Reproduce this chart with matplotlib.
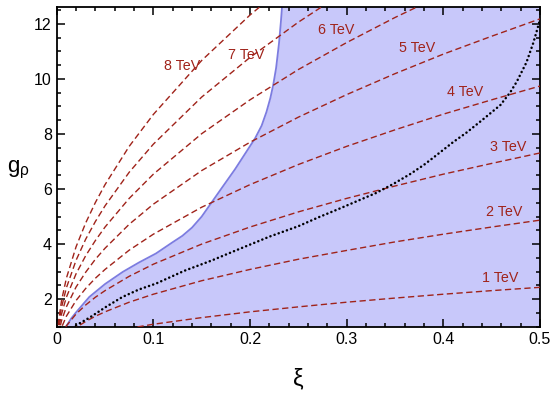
import numpy as np
import matplotlib
matplotlib.use("Agg")
import matplotlib.pyplot as plt
from matplotlib.ticker import MultipleLocator

plt.rcParams['font.family'] = ['Liberation Sans', 'DejaVu Sans']
plt.rcParams['mathtext.fontset'] = 'custom'
plt.rcParams['mathtext.rm'] = 'Liberation Sans'

# xi grid for the constant-mass lines
xi = [0, 0.002, 0.005, 0.01, 0.02, 0.03, 0.04, 0.05, 0.075, 0.1, 0.15, 0.2,
      0.25, 0.3, 0.35, 0.4, 0.45, 0.5]

# g_rho along each mass line
g_1tev = [0, 0.15, 0.24, 0.34, 0.49, 0.60, 0.69, 0.77, 0.94, 1.09, 1.33, 1.54,
          1.72, 1.89, 2.04, 2.18, 2.31, 2.43]
g_2tev = [0, 0.31, 0.49, 0.69, 0.97, 1.19, 1.38, 1.54, 1.89, 2.18, 2.67, 3.08,
          3.45, 3.77, 4.08, 4.36, 4.62, 4.87]
g_3tev = [0, 0.46, 0.73, 1.03, 1.46, 1.79, 2.07, 2.31, 2.83, 3.27, 4.00, 4.62,
          5.17, 5.66, 6.11, 6.54, 6.93, 7.31]
g_4tev = [0, 0.62, 0.97, 1.38, 1.95, 2.39, 2.76, 3.08, 3.78, 4.36, 5.34, 6.16,
          6.89, 7.55, 8.15, 8.72, 9.24, 9.74]
g_5tev = [0, 0.77, 1.22, 1.72, 2.44, 2.98, 3.45, 3.85, 4.72, 5.45, 6.67, 7.70,
          8.61, 9.43, 10.19, 10.90, 11.55, 12.18]
g_6tev = [0, 0.92, 1.46, 2.07, 2.92, 3.58, 4.13, 4.62, 5.66, 6.54, 8.01, 9.24,
          10.34, 11.32, 12.23, 13.07]
g_7tev = [0, 1.08, 1.71, 2.41, 3.41, 4.18, 4.82, 5.39, 6.61, 7.63, 9.34, 10.78,
          12.06, 13.21]
g_8tev = [0, 1.23, 1.95, 2.76, 3.90, 4.77, 5.51, 6.16, 7.55, 8.71, 10.67, 12.32,
          13.78]

masses = ["1 TeV", "2 TeV", "3 TeV", "4 TeV", "5 TeV", "6 TeV", "7 TeV", "8 TeV"]
lines = [g_1tev, g_2tev, g_3tev, g_4tev, g_5tev, g_6tev, g_7tev, g_8tev]
label_xi = [0.459, 0.463, 0.467, 0.423, 0.373, 0.289, 0.196, 0.13]
label_g = [2.77, 5.17, 7.54, 9.54, 11.14, 11.76, 10.87, 10.47]

# allowed region boundary
xi_bound = [0.0096, 0.015, 0.02, 0.0337, 0.05, 0.0683, 0.085, 0.1027, 0.12,
            0.13, 0.14, 0.15, 0.16, 0.17, 0.1845, 0.2052, 0.212, 0.217, 0.221,
            0.224, 0.227, 0.230, 0.232, 0.2335]
g_bound = [1.0, 1.3, 1.52, 2.08, 2.55, 2.99, 3.33, 3.66, 4.07,
           4.30, 4.60, 5.0, 5.5, 6.0, 6.72, 7.84, 8.3, 8.8, 9.3,
           9.78, 10.4, 11.3, 12.1, 12.8]

# black dotted curve
xi_dot = [0.020, 0.034, 0.051, 0.068, 0.085, 0.103, 0.132, 0.160, 0.186, 0.220,
          0.250, 0.272, 0.290, 0.310, 0.330, 0.348, 0.366, 0.380, 0.390, 0.410,
          0.424, 0.440, 0.459, 0.469, 0.476, 0.486, 0.493, 0.498, 0.500]
g_dot = [1.05, 1.33, 1.72, 2.08, 2.35, 2.57, 3.03, 3.40, 3.78, 4.27,
         4.65, 4.99, 5.25, 5.55, 5.85, 6.18, 6.55, 6.88, 7.15, 7.7,
         8.05, 8.5, 9.05, 9.5, 9.9, 10.6, 11.3, 11.9, 12.15]

red = '#a0231a'

fig = plt.figure(figsize=(5.56, 3.93), dpi=100)
ax = fig.add_axes([0.102, 0.1687, 0.8692, 0.8127])

ax.fill_betweenx(g_bound, xi_bound, 0.5, color='#c8c8fa', lw=0, zorder=1)
ax.plot(xi_bound, g_bound, color='#7c7ce0', lw=1.3, zorder=2)

for g, name, lx, ly in zip(lines, masses, label_xi, label_g):
    ax.plot(xi[:len(g)], g, color=red, lw=1.0, ls=(0, (4.5, 2.5)), zorder=3)
    ax.text(lx, ly, name, color=red, fontsize=10.3, ha='center', va='center',
            zorder=5)

ax.plot(xi_dot, g_dot, color='black', lw=1.8, ls=(0, (0.05, 1.7)),
        dash_capstyle='round', zorder=4)

ax.set_xlim(0, 0.5)
ax.set_ylim(1, 12.6)
ax.xaxis.set_minor_locator(MultipleLocator(0.02))
ax.yaxis.set_minor_locator(MultipleLocator(0.5))
ax.set_xticks([0, 0.1, 0.2, 0.3, 0.4, 0.5])
ax.set_xticklabels(['0', '0.1', '0.2', '0.3', '0.4', '0.5'])
ax.set_yticks([2, 4, 6, 8, 10, 12])
ax.tick_params(which='both', direction='in', top=True, right=True,
               labelsize=11.5, width=1.1)
ax.tick_params(which='major', length=5.5)
ax.tick_params(which='minor', length=3)
for s in ax.spines.values():
    s.set_linewidth(1.3)

ax.set_xlabel('ξ', fontsize=17)
ax.xaxis.set_label_coords(0.5, -0.13)
ax.set_ylabel('$\\mathregular{g_\\rho}$', fontsize=16, rotation=0,
              va='center', ha='center')
ax.yaxis.set_label_coords(-0.08, 0.49)

fig.savefig('out.png', dpi=100)
